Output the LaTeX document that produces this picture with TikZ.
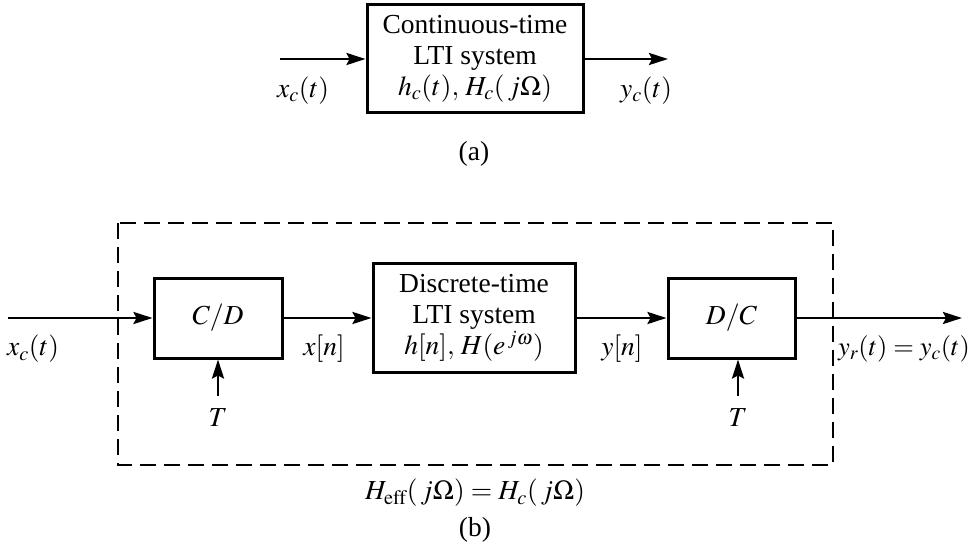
\documentclass[tikz,border=0pt]{standalone}
\usepackage{mathptmx}
\usepackage{fontspec}
\setmainfont{Liberation Serif}
\usetikzlibrary{arrows.meta}
\begin{document}
\begin{tikzpicture}[x=1pt,y=-1pt,
  every node/.style={font=\fontsize{27.5}{30}\selectfont},
  blk/.style={draw,line width=3pt,inner sep=0pt,align=center,font=\fontsize{27.5}{31}\selectfont},
  sig/.style={line width=2.7pt,-{Stealth[length=19pt,width=12pt,inset=3pt]}},
  lbl/.style={inner sep=0pt},
  frame/.style={line width=1.5pt,dash pattern=on 16pt off 8pt}]
\useasboundingbox (0,0) rectangle (972,548);
% (a)
\node[blk,minimum width=216pt,minimum height=108pt] (ct) at (475,59)
  {Continuous-time\\LTI system\\$h_c(t),\,H_c(\,j\Omega)$};
\coordinate (ain) at (280,59);
\coordinate (aout) at (668,59);
\draw[sig] (ain) -- (ct.west);
\draw[sig] (ct.east) -- (aout);
\node[lbl] (xa) at (303,91) {$x_c(t)$};
\node[lbl] (ya) at (646,91) {$y_c(t)$};
\node[lbl] (la) at (474,154) {(a)};
% (b)
\draw[frame] (118,223) rectangle (833,465);
\node[blk,minimum width=128pt,minimum height=80pt] (cd) at (218,318) {$C/D$};
\node[blk,minimum width=202pt,minimum height=109pt] (dt) at (474,318)
  {Discrete-time\\LTI system\\$h[n],\,H(e^{\,j\omega})$};
\node[blk,minimum width=127pt,minimum height=80pt] (dc) at (731.5,318) {$D/C$};
\coordinate (bin) at (8,318);
\coordinate (bout) at (962,318);
\draw[sig] (bin) -- (cd.west);
\draw[sig] (cd.east) -- (dt.west);
\draw[sig] (dt.east) -- (dc.west);
\draw[sig] (dc.east) -- (bout);
\node[lbl] (xb) at (33,349) {$x_c(t)$};
\node[lbl] (xn) at (324,349) {$x[n]$};
\node[lbl] (yn) at (622,349) {$y[n]$};
\node[lbl,font=\fontsize{26.5}{30}\selectfont] (yr) at (904,349) {$y_r(t)=y_c(t)$};
\node[lbl] (t1) at (218,418) {$T$};
\node[lbl] (t2) at (738,418) {$T$};
\coordinate (t1top) at (218,396);
\coordinate (t2top) at (738,396);
\draw[sig] (t1top) -- (cd.south);
\draw[sig] (t2top) -- (t2top |- dc.south);
\node[lbl] (heff) at (475,493) {$H_{\mathrm{eff}}(\,j\Omega)=H_c(\,j\Omega)$};
\node[lbl] (lb) at (475,530) {(b)};
\end{tikzpicture}
\end{document}
